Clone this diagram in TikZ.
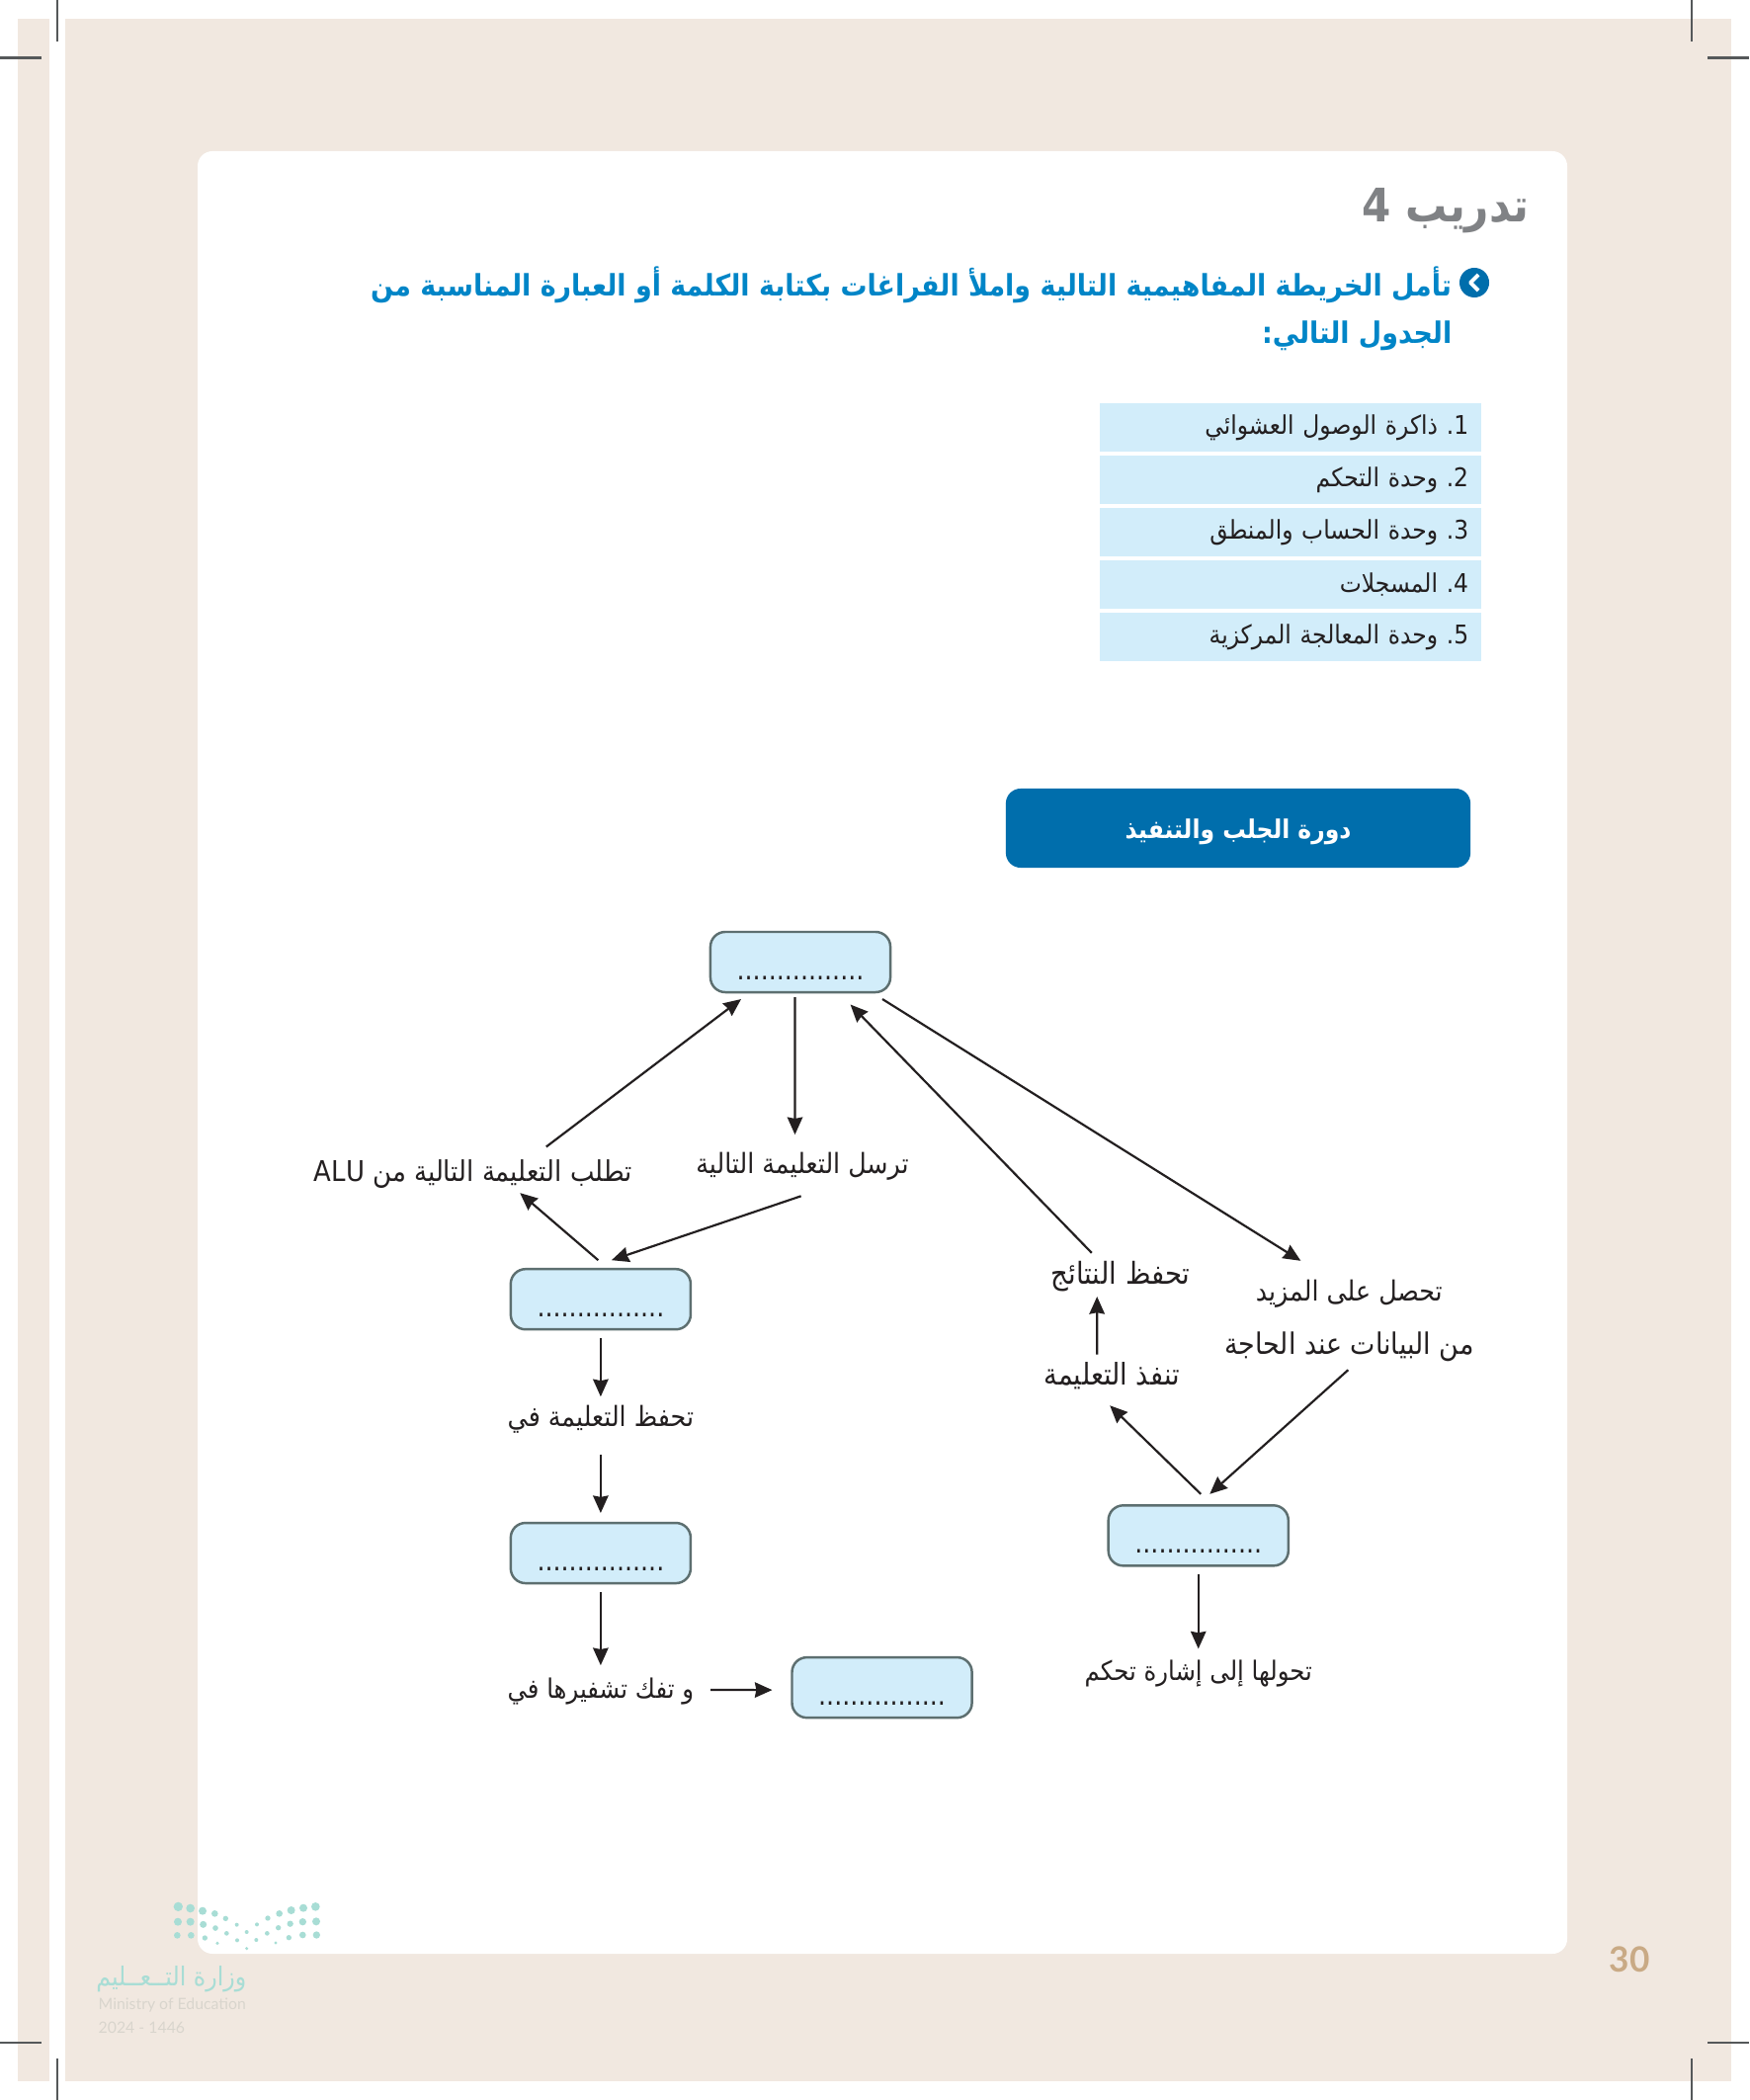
\documentclass[tikz,border=0pt]{standalone}
\usepackage{fontspec}
\usetikzlibrary{positioning, arrows.meta}
\TeXXeTstate=1
\newfontfamily\arabicfont[Script=Arabic,FakeStretch=0.9]{DejaVu Sans}
\newfontfamily\latinfont{Lato}
\definecolor{pagebg}{HTML}{F1E8E0}
\definecolor{cellblue}{HTML}{D2EDFA}
\definecolor{edgegray}{HTML}{5D6F70}
\definecolor{headblue}{HTML}{006EAC}
\definecolor{askblue}{HTML}{0085C7}
\definecolor{titlegray}{HTML}{808285}
\definecolor{inkblack}{HTML}{231F20}
\definecolor{cropgray}{HTML}{55585A}
\definecolor{logoteal}{HTML}{A8DDD5}
\definecolor{logogray}{HTML}{D9D5CD}
\definecolor{pagetan}{HTML}{C9AA85}
\newcommand{\rtl}[1]{\arabicfont\beginR #1\endR}
\begin{document}
\begin{tikzpicture}[
        x=0.01cm, y=-0.01cm,
        blankbox/.style={rectangle, draw=edgegray, fill=cellblue, line width=0.7pt, outer sep=0pt, minimum width=1.82cm, minimum height=0.61cm, inner sep=0pt, rounded corners=0.15cm, text=inkblack, text height=10pt, text depth=0pt, font=\arabicfont\fontsize{8}{10}\selectfont},
        lbl/.style={rectangle, inner sep=0pt, outer sep=0pt, text=inkblack, text height=9pt, text depth=4pt, font=\fontsize{8}{10}\selectfont},
        tablerow/.style={rectangle, fill=cellblue, outer sep=0pt, minimum height=0.49cm, text width=3.60cm, inner xsep=0.13cm, inner ysep=0pt, align=right, text=inkblack, font=\fontsize{7.4}{9}\selectfont},
        headbox/.style={rectangle, fill=headblue, outer sep=0pt, minimum width=4.70cm, minimum height=0.80cm, rounded corners=0.15cm, text=white, text height=7.8pt, text depth=1.8pt, font=\bfseries\fontsize{7.4}{10}\selectfont},
        arrow/.style={-{Stealth[length=5pt,width=4.4pt,inset=0.4pt]}, line width=0.62pt, draw=inkblack},
        crop/.style={draw=cropgray, line width=0.6pt}
    ]
        \useasboundingbox (0,0) rectangle (1770,2125);
        \fill[pagebg] (18,19) rectangle (50,2106);
        \fill[pagebg] (66,19) rectangle (1752,2106);
        \fill[white, rounded corners=0.15cm] (200,153) rectangle (1586,1977);

        \draw[crop] (58,0) -- (58,42);
        \draw[crop] (0,58.5) -- (42,58.5);
        \draw[crop] (1712,0) -- (1712,42);
        \draw[crop] (1728,58.5) -- (1770,58.5);
        \draw[crop] (0,2067) -- (42,2067);
        \draw[crop] (58,2083) -- (58,2125);
        \draw[crop] (1728,2067) -- (1770,2067);
        \draw[crop] (1712,2083) -- (1712,2125);

        \foreach \dotx/\doty/\dotr in {541/148/14, 578/153/13, 615/161/12, 652/169/10, 685/184/8, 719/203/6, 780/202/6, 813/183/8, 848/169/10, 884/159/12, 921/152/12, 958/148/13,
            540/194/12, 578/194/12, 617/202/10.5, 654/213/8.5, 688/229/7, 749/225/6, 811/229/7, 845/212/8, 881/200/9.5, 919/194/11, 960/193/12,
            538/235/10, 580/235/10, 622/243/8, 660/259/5, 720/250/6, 778/249/6, 837/258/5, 877/242/8, 919/234/10, 961/234/11, 749/275/5}
            \fill[logoteal] ({\dotx/3},{1880+\doty/3}) circle ({\dotr*0.01cm/3});

        \node[anchor=east, text=logoteal, inner sep=0pt, font=\fontsize{7.5}{10}\selectfont] (logoar) at (250,2003) {\rtl{وزارة التــعــليم}};
        \node[anchor=west, text=logogray, inner sep=0pt, font=\latinfont\fontsize{4.5}{6}\selectfont] (logoen) at (99,2029) {Ministry of Education};
        \node[anchor=west, text=logogray, inner sep=0pt, font=\latinfont\fontsize{4.5}{6}\selectfont] (logoyear) at (99,2052) {2024 - 1446};
        \node[text=pagetan, inner sep=0pt, font=\latinfont\bfseries\fontsize{10}{12}\selectfont] (pagenum) at (1649,1983) {30};

        \node[anchor=east, text=titlegray, inner sep=0pt, font=\bfseries\fontsize{13.3}{16}\selectfont] (title) at (1548,213) {\rtl{تدريب 4}};
        \node[circle, fill=headblue, minimum size=0.30cm, inner sep=0pt] (bullet) at (1492,286) {};
        \draw[white, line width=1.1pt, line join=round] ([shift={(4,-8)}]bullet.center) -- ([shift={(-4,0)}]bullet.center) -- ([shift={(4,8)}]bullet.center);
        \node[anchor=north east, align=right, text=askblue, inner sep=0pt, font=\bfseries\fontsize{8.5}{13.6}\selectfont] (ask) at (1470,269) {\rtl{تأمل الخريطة المفاهيمية التالية واملأ الفراغات بكتابة الكلمة أو العبارة المناسبة من}\\\rtl{الجدول التالي:}};

        \node[tablerow] (row1) at (1306,432.5) {\rtl{1.\,\,ذاكرة الوصول العشوائي}};
        \node[tablerow, below=0.04cm of row1] (row2) {\rtl{2.\,\,وحدة التحكم}};
        \node[tablerow, below=0.04cm of row2] (row3) {\rtl{3.\,\,وحدة الحساب والمنطق}};
        \node[tablerow, below=0.04cm of row3] (row4) {\rtl{4.\,\,المسجلات}};
        \node[tablerow, below=0.04cm of row4] (row5) {\rtl{5.\,\,وحدة المعالجة المركزية}};

        \node[headbox] (head) at (1253,838) {\rtl{دورة الجلب والتنفيذ}};

        \node[blankbox] (top) at (810,973.5) {................};
        \node[lbl, below=1.52cm of top, xshift=0.02cm] (sendlbl) {\rtl{ترسل التعليمة التالية}};
        \node[blankbox, below=2.80cm of top, xshift=-2.02cm] (fetch) {................};
        \node[lbl, above=0.75cm of fetch, xshift=-1.29cm, font=\fontsize{8.2}{10}\selectfont] (reqlbl) {\rtl{تطلب التعليمة التالية من \beginL ALU\endL}};
        \node[lbl, below=0.67cm of fetch] (storelbl) {\rtl{تحفظ التعليمة في}};
        \node[blankbox, below=0.83cm of storelbl] (hold) {................};
        \node[lbl, below=0.85cm of hold, font=\fontsize{7.7}{10}\selectfont] (decodelbl) {\rtl{و تفك تشفيرها في}};
        \node[blankbox, below=0.75cm of hold, xshift=2.845cm] (decode) {................};
        \node[blankbox, below=5.19cm of top, xshift=4.025cm] (alu) {................};
        \node[lbl, below=0.84cm of alu, font=\fontsize{7.7}{10}\selectfont] (ctrllbl) {\rtl{تحولها إلى إشارة تحكم}};
        \node[lbl, above=1.08cm of alu, xshift=-0.875cm, font=\fontsize{8.6}{10}\selectfont] (execlbl) {\rtl{تنفذ التعليمة}};
        \node[lbl, above=0.56cm of execlbl, xshift=0.09cm, font=\fontsize{8.7}{10}\selectfont] (savelbl) {\rtl{تحفظ النتائج}};
        \node[lbl, above=1.39cm of alu, xshift=1.525cm, font=\fontsize{8.5}{10}\selectfont] (morelbl) {\rtl{من البيانات عند الحاجة}};
        \node[lbl, above=0.08cm of morelbl] (getlbl) {\rtl{تحصل على المزيد}};

        \draw[arrow] ([shift={(-5.5,5)}]top.south) -- ([shift={(-7.5,-8)}]sendlbl.north);
        \draw[arrow] ([shift={(74,-3)}]reqlbl.north) -- ([shift={(-60,7)}]top.south);
        \draw[arrow] ([shift={(-1.4,8.5)}]sendlbl.south) -- ([shift={(11,-9)}]fetch.north);
        \draw[arrow] ([shift={(-2.5,-9)}]fetch.north) -- ([shift={(47.4,-2)}]reqlbl.south);
        \draw[arrow] ([shift={(0,8.6)}]fetch.south) -- ([shift={(0,1)}]storelbl.north);
        \draw[arrow] ([shift={(0,14)}]storelbl.south) -- ([shift={(0,-10)}]hold.north);
        \draw[arrow] ([shift={(0,9)}]hold.south) -- ([shift={(0,-2)}]decodelbl.north);
        \draw[arrow] ([shift={(17,0)}]decodelbl.east) -- ([shift={(-20,2.5)}]decode.west);
        \draw[arrow] ([shift={(-29.4,0)}]savelbl.north) -- ([shift={(50.6,12.5)}]top.south);
        \draw[arrow] ([shift={(83,7)}]top.south) -- ([shift={(-49,-9)}]getlbl.north);
        \draw[arrow] ([shift={(-15,1)}]execlbl.north) -- ([shift={(-24,-1.5)}]savelbl.south);
        \draw[arrow] ([shift={(2.5,-11.5)}]alu.north) -- ([shift={(-2,7)}]execlbl.south);
        \draw[arrow] ([shift={(-1,2)}]morelbl.south) -- ([shift={(11.5,-11.5)}]alu.north);
        \draw[arrow] ([shift={(0,9)}]alu.south) -- (ctrllbl.north);
    \end{tikzpicture}
\end{document}
